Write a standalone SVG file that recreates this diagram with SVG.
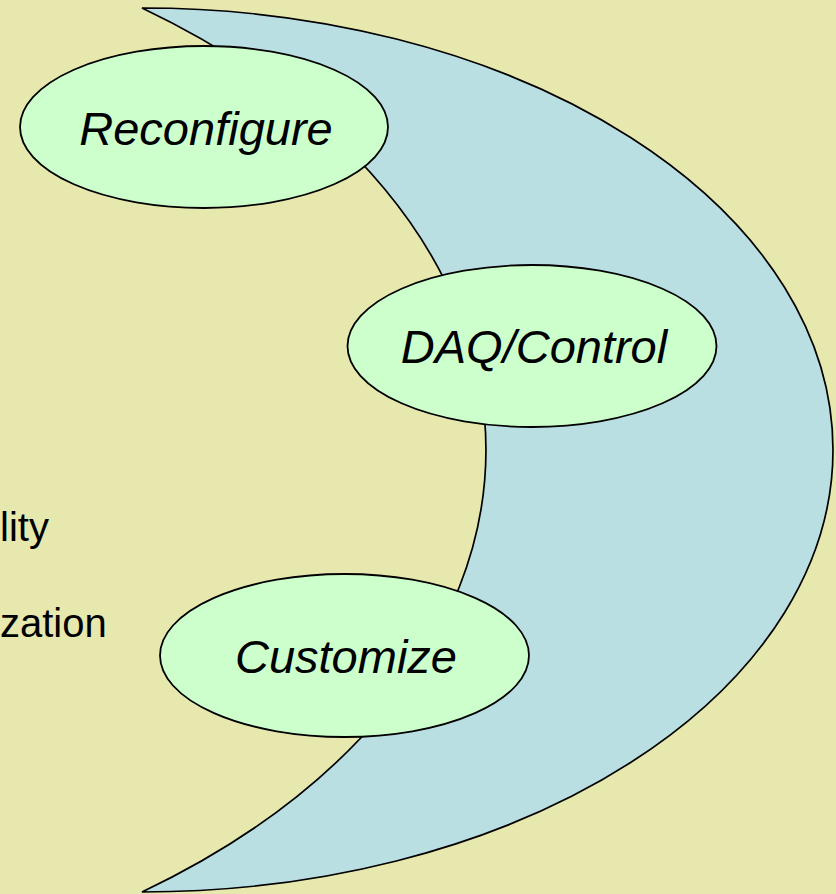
<svg xmlns="http://www.w3.org/2000/svg" width="836" height="894" viewBox="0 0 836 894">
<style>
.bg{fill:#E6E8AE}
.moon{fill:#B9DFE3;stroke:#000;stroke-width:1.7}
.node ellipse{fill:#CCFFCC;stroke:#000;stroke-width:1.8}
.node text{font-family:"Liberation Sans",Arial,sans-serif;font-style:italic;font-size:47px;fill:#000;text-anchor:middle}
.side{font-family:"Liberation Sans",Arial,sans-serif;font-size:40px;fill:#000}
</style>
<rect class="bg" x="0" y="0" width="836" height="894"/>
<g id="crescent">
<path class="moon" d="M142,8 A691,442 0 0 1 142,892 A833,546 0 0 0 142,8 Z"/>
</g>
<g id="side-text">
<text class="side" x="0" y="541">lity</text>
<text class="side" x="0" y="637">zation</text>
</g>
<g id="connectors"></g>
<g id="reconfigure" class="node">
<ellipse cx="204" cy="127" rx="184" ry="81"/>
<text x="206" y="145">Reconfigure</text>
</g>
<g id="daq-control" class="node">
<ellipse cx="532" cy="346" rx="184.5" ry="81"/>
<text x="534" y="363">DAQ/Control</text>
</g>
<g id="customize" class="node">
<ellipse cx="344.5" cy="655.5" rx="184.5" ry="81.5"/>
<text x="346" y="673">Customize</text>
</g>
</svg>
